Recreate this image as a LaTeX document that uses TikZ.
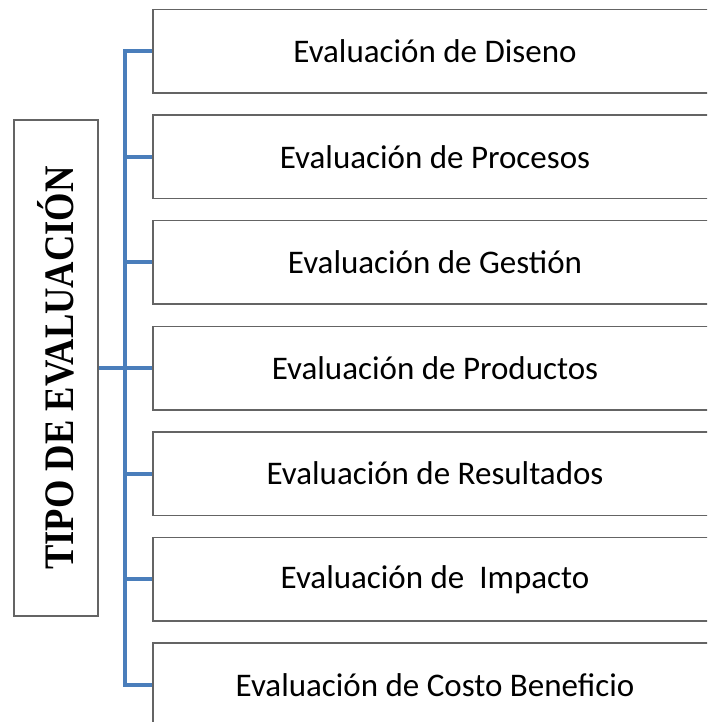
\documentclass[tikz,border=0pt]{standalone}
\usepackage{fontspec}
\setmainfont{Carlito}
\newfontfamily\titulofont[FakeStretch=0.87]{Liberation Serif}
\definecolor{azulrama}{RGB}{74,126,187}
\definecolor{grisborde}{RGB}{100,100,100}
\begin{document}
\begin{tikzpicture}[x=1pt, y=-1pt,
    caja/.style={draw=grisborde, line width=1.5pt, minimum width=564pt, minimum height=83.5pt,
                 inner sep=0pt, font=\fontsize{33}{40}\selectfont},
    rama/.style={draw=azulrama, line width=4pt}]
% marco
            \useasboundingbox ( 0, 0 ) rectangle ( 707, 722 );
            \clip ( 0, 0 ) rectangle ( 707, 722 );

% titulo vertical
            \node [draw=grisborde, line width=1.5pt, minimum width=84pt, minimum height=496pt, inner sep=0pt]
                (tipo) at ( 56, 368 ) {\rotatebox{90}{\titulofont\bfseries\fontsize{42}{46}\selectfont TIPO DE EVALUACIÓN}};

% cajas
            \node [caja] (diseno)     at ( 435, 51.2 )  {Evaluación de Diseno};
            \node [caja] (procesos)   at ( 435, 156.8 ) {Evaluación de Procesos};
            \node [caja] (gestion)    at ( 435, 262.4 ) {Evaluación de Gestión};
            \node [caja] (productos)  at ( 435, 368 )   {Evaluación de Productos};
            \node [caja] (resultados) at ( 435, 473.6 ) {Evaluación de Resultados};
            \node [caja] (impacto)    at ( 435, 579.2 ) {Evaluación de~ Impacto};
            \node [caja] (costo)      at ( 435, 684.8 ) {Evaluación de Costo Beneficio};

% tronco
            \coordinate (arriba) at ( 125, 51.2 );
            \coordinate (abajo) at ( 125, 684.8 );
            \draw [rama] (diseno.west) -- (arriba) -- (abajo) -- (costo.west);

% ramas
            \draw [rama] (tipo.east) -- (productos.west);
            \draw [rama] (procesos.west -| arriba) -- (procesos.west);
            \draw [rama] (gestion.west -| arriba) -- (gestion.west);
            \draw [rama] (resultados.west -| arriba) -- (resultados.west);
            \draw [rama] (impacto.west -| arriba) -- (impacto.west);
        \end{tikzpicture}
\end{document}
